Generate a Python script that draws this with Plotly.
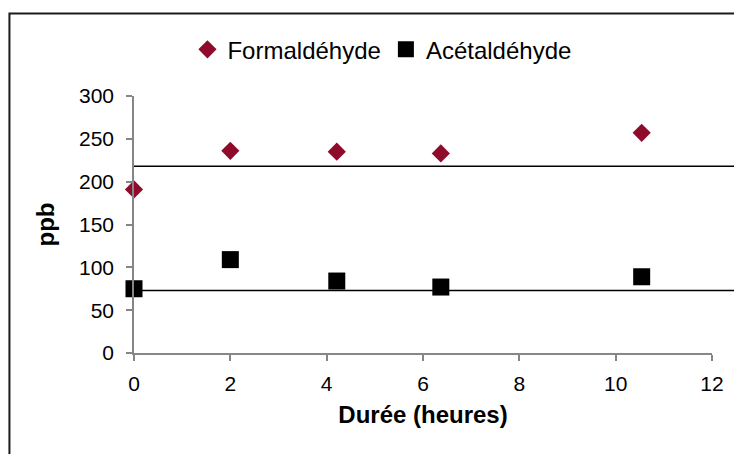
import plotly.graph_objects as go

# Data
form_x = [0.0, 2.0, 4.21, 6.37, 10.54]
form_y = [191, 236, 235, 233, 257]
acet_x = [0.0, 2.0, 4.21, 6.37, 10.54]
acet_y = [75, 109, 84, 77, 89]
ref_levels = [218, 73]
x_ticks = [0, 2, 4, 6, 8, 10, 12]
y_ticks = [0, 50, 100, 150, 200, 250, 300]

FONT = "Liberation Sans, Arial, sans-serif"

fig = go.Figure()
fig.add_trace(go.Scatter(
    x=form_x, y=form_y, mode="markers", name="Formaldéhyde",
    marker=dict(symbol="diamond", size=14, color="#8E0B2C"),
    cliponaxis=False,
))
fig.add_trace(go.Scatter(
    x=acet_x, y=acet_y, mode="markers", name="Acétaldéhyde",
    marker=dict(symbol="square", size=17, color="#000000"),
    cliponaxis=False,
))

for lv in ref_levels:
    fig.add_shape(type="line", xref="paper", yref="y", x0=0, x1=1.05, y0=lv, y1=lv,
                  line=dict(color="#000000", width=1.6), layer="below")

# outer frame
fig.add_shape(type="rect", xref="paper", yref="paper", x0=-0.2155, x1=1.2, y0=-0.5, y1=1.321,
              line=dict(color="#1a1a1a", width=2), fillcolor="rgba(0,0,0,0)")

fig.update_layout(
    width=742, height=454,
    margin=dict(l=126, r=38, t=88, b=109),
    paper_bgcolor="white", plot_bgcolor="white",
    font=dict(family=FONT, color="#000000", size=20),
    showlegend=True,
    legend=dict(orientation="h", x=0.429, xanchor="center", y=1.18, yanchor="middle",
                font=dict(size=24), itemwidth=30, bgcolor="rgba(0,0,0,0)",
                tracegroupgap=0),
    xaxis=dict(range=[0, 12], tickvals=x_ticks, showline=True, linecolor="#868686", linewidth=1.5,
               ticks="outside", ticklen=6, tickcolor="#868686", tickwidth=1.5,
               showgrid=False, zeroline=False, tickfont=dict(size=21), ticklabelstandoff=5,
               title=dict(text="<b>Durée (heures)</b>", font=dict(size=24), standoff=12)),
    yaxis=dict(range=[0, 300], tickvals=y_ticks, showline=True, linecolor="#868686", linewidth=1.5,
               ticks="outside", ticklen=6, tickcolor="#868686", tickwidth=1.5,
               showgrid=False, zeroline=False, tickfont=dict(size=21), ticklabelstandoff=8,
               title=dict(text="<b>ppb</b>", font=dict(size=24), standoff=18)),
)

fig.write_html("out.html")
